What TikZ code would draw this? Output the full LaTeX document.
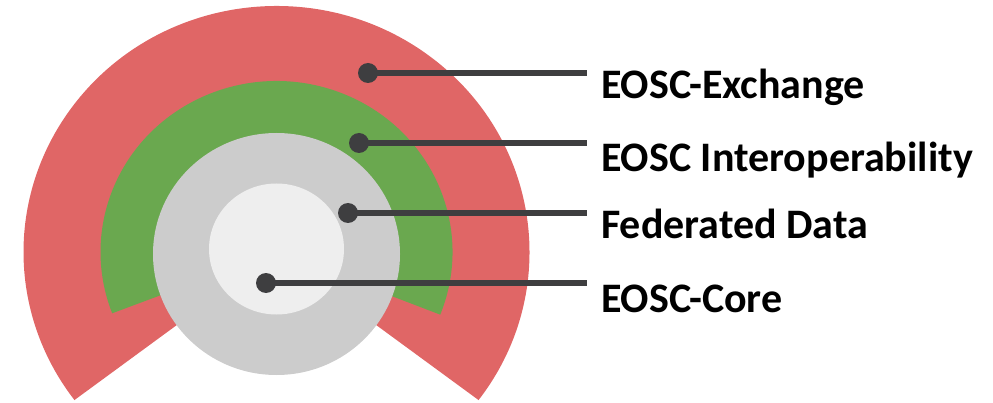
\documentclass[tikz,border=0pt]{standalone}
\usepackage{fontspec}
\setmainfont{Carlito}
\definecolor{ringred}{RGB}{224,102,102}
\definecolor{ringgreen}{RGB}{106,168,79}
\definecolor{ringgrey}{RGB}{204,204,204}
\definecolor{ringlight}{RGB}{238,238,238}
\definecolor{leader}{RGB}{62,62,64}
\begin{document}
\begin{tikzpicture}[x=1pt,y=1pt,
  dot/.style={circle,fill=leader,inner sep=0pt,minimum size=20pt},
  leaderline/.style={draw=leader,line width=5.5pt},
  lbl/.style={anchor=base west,inner sep=0pt,font=\fontsize{42}{50}\selectfont\bfseries}]
\useasboundingbox (0,0) rectangle (993,402);
\begin{scope}
\clip (0,0) rectangle (993,402);
\coordinate (c) at (276.5,150);
\fill[ringred] (c) -- ++(-37:253 and 246) arc[start angle=-37,end angle=217,x radius=253,y radius=246] -- cycle;
\fill[ringgreen] (c) -- ++(-21.5:176 and 171) arc[start angle=-21.5,end angle=201,x radius=176,y radius=171] -- cycle;
\fill[ringgrey] (276.5,148) ellipse[x radius=123.5,y radius=121];
\fill[ringlight] (276.5,153) ellipse[x radius=67.5,y radius=65.5];
\end{scope}
\node[dot] (d1) at (368,329) {};
\node[dot] (d2) at (359,259) {};
\node[dot] (d3) at (348,189) {};
\node[dot] (d4) at (266,119) {};
\coordinate (e1) at (587,329);
\coordinate (e2) at (587,259);
\coordinate (e3) at (587,189);
\coordinate (e4) at (587,119);
\draw[leaderline] (d1.center) -- (e1);
\draw[leaderline] (d2.center) -- (e2);
\draw[leaderline] (d3.center) -- (e3);
\draw[leaderline] (d4.center) -- (e4);
\node[lbl] (t1) at (601,303) {EOSC-Exchange};
\node[lbl] (t2) at (601,230) {EOSC Interoperability};
\node[lbl] (t3) at (601,163) {Federated Data};
\node[lbl] (t4) at (601,90) {EOSC-Core};
\end{tikzpicture}
\end{document}
